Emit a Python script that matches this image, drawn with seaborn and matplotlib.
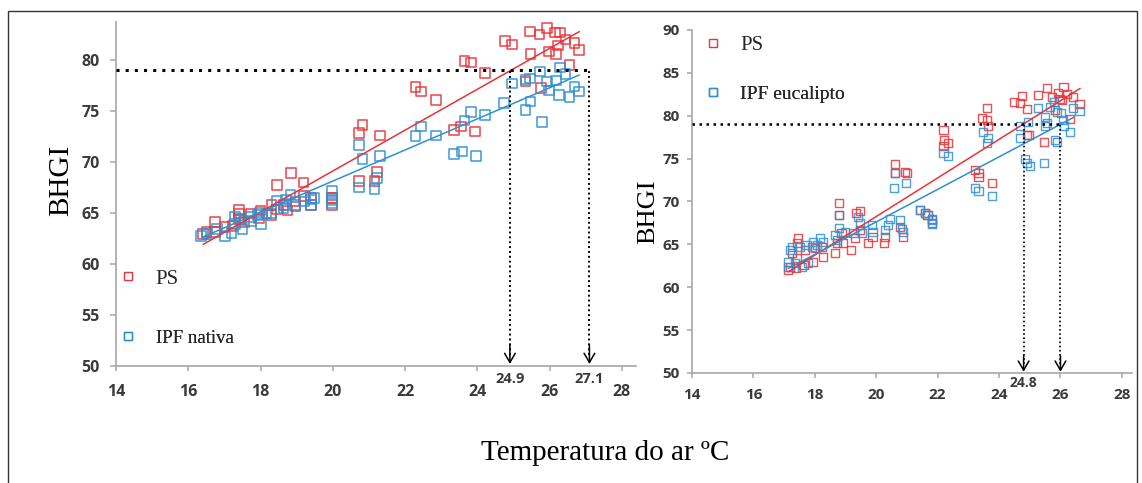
import numpy as np
import pandas as pd
import matplotlib
matplotlib.use("Agg")
import matplotlib.pyplot as plt
import seaborn as sns
from matplotlib.lines import Line2D
from matplotlib.patches import Rectangle

# ---------------- DATA ----------------
# Left panel: PS vs IPF nativa
ps_left_x = [24.76, 24.95, 25.46, 25.72, 25.92, 26.14, 26.28, 26.44, 26.69, 26.82, 26.23, 25.99,
             26.18, 25.47, 26.55, 25.33, 25.76, 23.64, 23.83, 24.21, 22.29, 22.44, 22.86, 20.73,
             20.82, 21.30, 23.36, 23.55, 23.94, 18.85, 18.45, 19.19, 20.73, 21.15, 21.23, 19.97,
             16.41, 16.50, 16.74, 16.74, 17.00, 17.22, 17.40, 17.40, 17.40, 17.55, 17.74, 17.95,
             18.00, 18.30, 18.30, 18.45, 18.64, 18.75, 18.97, 18.97, 19.20, 19.40, 19.40, 19.97,
             19.97]
ps_left_y = [81.85, 81.48, 82.76, 82.49, 83.10, 82.66, 82.66, 81.99, 81.65, 80.98, 81.41, 80.81,
             80.57, 80.57, 79.46, 77.88, 77.20, 79.90, 79.73, 78.72, 77.30, 76.87, 76.03, 72.84,
             73.58, 72.57, 73.10, 73.44, 72.94, 68.90, 67.69, 67.96, 68.13, 68.13, 68.97, 66.45,
             62.90, 63.10, 64.07, 63.07, 63.60, 63.70, 65.25, 64.40, 64.93, 64.10, 64.90, 64.42,
             65.20, 65.75, 64.76, 65.30, 65.77, 65.20, 65.60, 66.10, 66.60, 65.77, 66.45, 65.77,
             66.45]

ipf_left_x = [24.95, 25.33, 25.45, 25.73, 26.28, 26.44, 25.93, 26.17, 25.99, 26.26, 26.55, 26.69,
              26.82, 24.74, 25.33, 25.47, 25.78, 23.83, 23.64, 24.21, 22.44, 22.29, 22.86, 23.36,
              23.58, 23.96, 20.73, 20.82, 21.30, 20.73, 21.15, 21.23, 19.97, 18.83, 18.45,
              16.36, 16.50, 16.79, 17.02, 17.20, 17.30, 17.30, 17.50, 17.45, 17.74, 17.74, 17.93,
              18.02, 17.97, 18.16, 18.30, 18.64, 18.68, 18.70, 18.97, 19.20, 19.40, 19.40, 19.49,
              19.97, 19.97]
ipf_left_y = [77.65, 78.05, 78.15, 78.83, 79.23, 78.62, 77.88, 77.95, 76.97, 76.53, 76.36, 77.37,
              76.87, 75.73, 75.06, 75.90, 73.88, 74.90, 74.05, 74.56, 73.44, 72.50, 72.57, 70.72,
              70.99, 70.55, 71.66, 70.25, 70.58, 67.46, 67.29, 68.40, 67.12, 66.79, 66.18,
              62.70, 62.90, 63.40, 62.70, 63.00, 63.90, 64.60, 63.40, 64.30, 64.20, 64.59, 64.76,
              63.90, 65.00, 64.93, 64.90, 65.44, 65.75, 66.30, 65.77, 66.10, 65.75, 66.28, 66.45,
              65.94, 66.26]

# Right panel: PS vs IPF eucalipto
ps_right_x = [18.80, 18.80, 19.34, 19.47, 20.61, 20.61, 20.94, 20.99, 22.19, 22.21, 22.35, 22.19,
              23.22, 23.33, 23.33, 23.76, 23.60, 23.44, 23.60, 23.65, 24.50, 24.74, 24.68, 24.92,
              25.28, 25.55, 25.72, 25.93, 26.10, 26.20, 26.40, 26.62, 25.97, 26.04, 25.82, 26.31,
              25.47, 24.90, 24.96, 21.43, 21.59, 21.67,
              21.81, 20.78, 20.88, 20.29, 20.26, 19.88, 19.74, 19.47, 19.17, 19.30, 18.93, 18.87,
              18.66, 18.71, 18.28, 18.22, 18.01, 17.95, 17.68, 17.63, 17.43, 17.46, 17.41, 17.39,
              17.19, 17.14, 17.25, 21.81]
ps_right_y = [69.78, 68.42, 68.69, 68.89, 74.37, 73.28, 73.47, 73.36, 78.33, 77.17, 76.86, 76.47,
              73.67, 73.36, 72.89, 72.19, 80.86, 79.69, 79.50, 78.80, 81.64, 82.30, 81.44, 80.74,
              82.41, 83.19, 82.22, 82.69, 83.31, 82.53, 82.14, 81.36, 81.91, 81.83, 80.66, 79.58,
              76.97, 77.75, 77.75, 69.00, 68.69, 68.42,
              67.45, 67.06, 65.90, 65.90, 65.20, 65.90, 65.12, 66.67, 64.34, 65.70, 65.12, 66.28,
              63.95, 65.12, 63.56, 64.73, 64.54, 62.98, 64.34, 62.59, 65.12, 65.70, 63.37, 62.20,
              62.40, 62.00, 63.95, 68.00]

ipf_right_x = [25.26, 25.50, 25.55, 25.50, 25.66, 25.80, 25.88, 26.01, 26.07, 26.12, 26.42, 26.62,
               26.31, 25.82, 25.88, 25.47, 24.68, 24.68, 24.93, 24.85, 24.90, 25.01, 23.49, 23.65,
               23.60, 23.22, 23.33, 23.76, 22.19, 22.35, 20.61, 20.58, 20.97, 21.43, 21.59, 21.67,
               18.80, 21.81, 20.78, 20.83, 20.86, 20.45, 20.39, 20.29, 19.85, 19.88, 19.47, 19.53,
               19.42, 19.26, 18.99, 18.80, 18.66, 18.71, 18.28, 18.17, 18.06, 17.95, 17.90, 17.73,
               17.79, 17.57, 17.50, 17.36, 17.19, 17.25, 17.14, 17.14, 21.81]
ipf_right_y = [80.86, 79.89, 79.11, 78.80, 80.98, 81.64, 80.47, 80.28, 79.50, 78.80, 80.86, 80.59,
               78.14, 77.17, 76.97, 74.52, 78.80, 77.36, 79.30, 74.91, 74.45, 74.13, 78.14, 77.36,
               76.78, 71.53, 71.26, 70.64, 75.61, 75.30, 73.28, 71.53, 72.11, 69.00, 68.69, 68.42,
               68.42, 67.84, 67.84, 66.75, 66.48, 67.92, 67.26, 66.67, 67.26, 66.48, 67.45, 66.28,
               68.23, 66.28, 66.48, 66.87, 66.09, 65.50, 65.31, 65.70, 64.92, 65.31, 64.73, 64.92,
               62.79, 62.40, 64.73, 62.79, 64.34, 64.73, 62.40, 62.98, 67.35]

# Trend lines (end points)
trend_ps_left_x = [16.41, 26.82]
trend_ps_left_y = [61.88, 82.76]
trend_ipf_left_x = [16.40, 26.82]
trend_ipf_left_y = [62.60, 78.50]
trend_ps_right_x = [17.14, 26.64]
trend_ps_right_y = [61.81, 83.19]
trend_ipf_right_x = [17.14, 26.45]
trend_ipf_right_y = [62.20, 79.85]

threshold = 79
cross_left = [24.9, 27.1]
cross_left_labels = ["24.9", "27.1"]
cross_right = [24.8, 26.0]
cross_right_labels = ["24.8", ""]

xticks = [14, 16, 18, 20, 22, 24, 26, 28]
yticks_left = [50, 55, 60, 65, 70, 75, 80]
yticks_right = [50, 55, 60, 65, 70, 75, 80, 85, 90]

RED = "#E8333A"
BLUE = "#2E8FD3"
AXC = "#a6a6a6"
TXT = "#3a3a3a"
SERIF = "Liberation Serif"
TICKFONT = "Open Sans"

# ---------------- FIGURE ----------------
sns.set_theme(style="white")
plt.rcParams['font.family'] = [TICKFONT, 'DejaVu Sans']

W, H = 1142, 483
fig = plt.figure(figsize=(W / 100, H / 100), dpi=100)

# axes boxes in pixels (left, top, right, bottom)
boxL = (116, 22, 636.4, 365.5)
boxR = (692, 30, 1132, 373)


def make_ax(box):
    l, t, r, b = box
    return fig.add_axes([l / W, 1 - b / H, (r - l) / W, (b - t) / H])


ax1 = make_ax(boxL)
ax2 = make_ax(boxR)


def draw_panel(ax, psx, psy, ipx, ipy, tpx, tpy, tix, tiy, s, lw):
    sns.scatterplot(x=psx, y=psy, ax=ax, marker='s', s=s, facecolor='none',
                    edgecolor=RED, linewidth=lw, alpha=0.85, legend=False, zorder=3)
    sns.scatterplot(x=ipx, y=ipy, ax=ax, marker='s', s=s, facecolor='none',
                    edgecolor=BLUE, linewidth=lw, alpha=0.85, legend=False, zorder=3)
    sns.lineplot(x=tpx, y=tpy, ax=ax, color=RED, linewidth=1.1, zorder=4)
    sns.lineplot(x=tix, y=tiy, ax=ax, color=BLUE, linewidth=1.1, zorder=4)


draw_panel(ax1, ps_left_x, ps_left_y, ipf_left_x, ipf_left_y,
           trend_ps_left_x, trend_ps_left_y, trend_ipf_left_x, trend_ipf_left_y, 48, 1.2)
draw_panel(ax2, ps_right_x, ps_right_y, ipf_right_x, ipf_right_y,
           trend_ps_right_x, trend_ps_right_y, trend_ipf_right_x, trend_ipf_right_y, 34, 1.0)


def style_ax(ax, xlim, ylim, yticks, fs, xpad, ypad, ylen):
    ax.set_xlim(*xlim)
    ax.set_ylim(*ylim)
    ax.set_xticks(xticks)
    ax.set_yticks(yticks)
    ax.set_xlabel("")
    ax.set_ylabel("")
    for sp in ["top", "right"]:
        ax.spines[sp].set_visible(False)
    for sp in ["left", "bottom"]:
        ax.spines[sp].set_color(AXC)
        ax.spines[sp].set_linewidth(1.2)
    ax.tick_params(axis='x', direction='out', length=3.6, width=1.1, color=AXC,
                   labelsize=fs, labelcolor=TXT, pad=xpad, bottom=True)
    ax.tick_params(axis='y', direction='out', length=ylen, width=1.1, color=AXC,
                   labelsize=fs, labelcolor=TXT, pad=ypad, left=True)
    for lbl in ax.get_xticklabels() + ax.get_yticklabels():
        lbl.set_fontweight('bold')
        lbl.set_family(TICKFONT)
    ax.grid(False)
    ax.set_facecolor('white')


style_ax(ax1, (14, 28.4), (50, 83.7), yticks_left, 11.5, 9.5, 7.5, 4.3)
style_ax(ax2, (14, 28.33), (50, 90), yticks_right, 11, 7.0, 5.0, 3.6)


def thresholds(ax, crosses, labels, hlw, dots, vlw, vdots, lab_off, lab_fs):
    ax.hlines(threshold, ax.get_xlim()[0], max(crosses), colors='black',
              linewidth=hlw, linestyles=[(0, dots)], zorder=5)
    for xv, lab in zip(crosses, labels):
        ax.vlines(xv, 51.0, threshold, colors='black', linewidth=vlw,
                  linestyles=[(0, vdots)], zorder=5)
        ax.annotate("", xy=(xv, 50.15), xytext=(xv, 52.0),
                    arrowprops=dict(arrowstyle='->,head_length=0.55,head_width=0.32',
                                    color='black', lw=1.1, shrinkA=0, shrinkB=0), zorder=6)
        if lab:
            ax.annotate(lab, xy=(xv, 0), xycoords=('data', 'axes fraction'),
                        xytext=(0, lab_off), textcoords='offset points',
                        ha='center', va='center', fontsize=lab_fs, family=TICKFONT,
                        fontweight='bold', color=TXT, annotation_clip=False)


thresholds(ax1, cross_left, cross_left_labels, 2.2, (1, 2.0), 1.4, (1, 1.5), -9.5, 10.5)
thresholds(ax2, cross_right, cross_right_labels, 1.8, (1, 1.8), 1.2, (1, 1.5), -7.5, 10)


def legend_entry(ax, box, label, color, fs, ms, marker_px, text_px, y_px):
    l, t, r, b = box
    fs_px = fs * 100 / 72
    hl = 0.8
    left_px = marker_px - hl / 2 * fs_px
    tp = (text_px - left_px) / fs_px - hl
    xf = (left_px - l) / (r - l)
    yf = (b - y_px) / (b - t)
    h = Line2D([], [], linestyle='none', marker='s', markersize=ms,
               markerfacecolor='none', markeredgecolor=color, markeredgewidth=1.0)
    leg = ax.legend(handles=[h], labels=[label], loc='center left', bbox_to_anchor=(xf, yf),
                    frameon=False, borderpad=0, borderaxespad=0, handlelength=hl,
                    handletextpad=tp, prop={'family': SERIF, 'size': fs})
    ax.add_artist(leg)
    return leg


legend_entry(ax1, boxL, "PS", RED, 15, 6.0, 128, 155, 279)
legend_entry(ax1, boxL, "IPF nativa", BLUE, 13.5, 6.0, 128, 156, 338)
legend_entry(ax2, boxR, "PS", RED, 15, 5.2, 713, 740, 45)
legend_entry(ax2, boxR, "IPF eucalipto", BLUE, 14, 5.2, 713, 740, 94)

# Axis titles
fig.text(61 / W, 1 - 180 / H, "BHGI", rotation=90, ha='center', va='center',
         family=SERIF, fontsize=21, color='black')
fig.text(648 / W, 1 - 212 / H, "BHGI", rotation=90, ha='center', va='center',
         family=SERIF, fontsize=19, color='black')
fig.text(605 / W, 1 - 453 / H, "Temperatura do ar ºC", ha='center', va='center',
         family=SERIF, fontsize=21, color='black')

# outer frame
fig.add_artist(Rectangle((8 / W, -0.02), (1137 - 8) / W, 1.02 - 10.5 / H,
                         transform=fig.transFigure, fill=False, edgecolor='#333333',
                         linewidth=1.0))

fig.savefig("out.png", dpi=100, facecolor='white')
